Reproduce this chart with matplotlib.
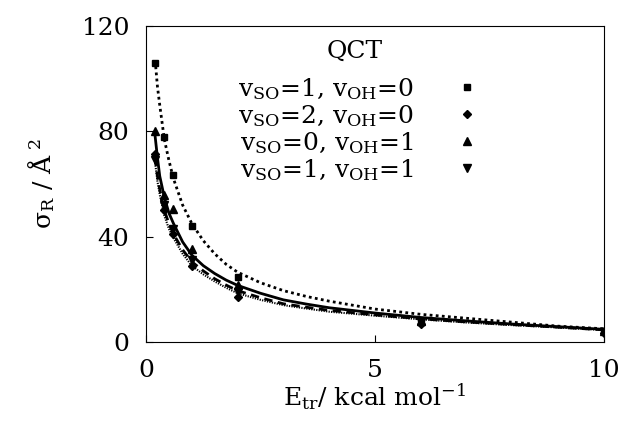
import matplotlib
matplotlib.use("Agg")
import matplotlib.pyplot as plt

plt.rcParams['font.family'] = ['DejaVu Serif']
plt.rcParams['mathtext.fontset'] = 'dejavuserif'

# QCT points
e_pts = [0.2, 0.4, 0.6, 1.0, 2.0, 6.0, 10.0]
s_10 = [106, 78, 63.5, 44, 24.5, 7.5, 4.0]
s_20 = [71.5, 50, 41, 29, 17, 6.9, 3.5]
s_01 = [80, 56, 50.5, 35.5, 21.5, 8.0, 4.0]
s_11 = [69, 52, 43, 31, 19, 7.5, 3.8]

# fitted curves
e_fit = [0.2, 0.25, 0.3, 0.4, 0.5, 0.6, 0.8, 1.0, 1.25, 1.5, 1.75, 2.0, 2.5, 3.0, 3.5,
         4.0, 5.0, 6.0, 7.0, 8.0, 9.0, 10.0]
f_10 = [107, 97, 90, 77, 69, 62, 52, 45, 38.5, 33.5, 29.5, 26.5, 22.5, 19.5, 17.3,
        15.5, 12.5, 10.5, 9.0, 7.5, 6.0, 5.0]
f_01 = [78, 70, 63, 55, 49, 45, 38, 33, 29, 26, 23.5, 21.5, 18.5, 16, 14.4,
        13, 11, 9.3, 8.0, 6.8, 5.8, 4.8]
f_11 = [70, 63, 58, 50, 45, 41, 35, 30.5, 27, 24, 21.6, 19.5, 16.8, 14.5, 13.2,
        12, 10.3, 8.8, 7.6, 6.6, 5.6, 4.6]
f_20 = [68, 61, 56, 48, 43, 39.5, 33.5, 29, 25.7, 23, 20.6, 18.5, 16, 14, 12.7,
        11.5, 10, 8.6, 7.4, 6.4, 5.5, 4.5]

labels = [r'v$_\mathrm{SO}$=1, v$_\mathrm{OH}$=0',
          r'v$_\mathrm{SO}$=2, v$_\mathrm{OH}$=0',
          r'v$_\mathrm{SO}$=0, v$_\mathrm{OH}$=1',
          r'v$_\mathrm{SO}$=1, v$_\mathrm{OH}$=1']

fig = plt.figure(figsize=(6.25, 4.28), dpi=100)
ax = fig.add_axes([0.2336, 0.201, 0.733, 0.738])

ax.plot(e_fit, f_10, color='black', lw=2, ls=(0, (1, 1.2)))
ax.plot(e_fit, f_01, color='black', lw=2, ls='-')
ax.plot(e_fit, f_11, color='black', lw=2, ls=(0, (3, 2)))
ax.plot(e_fit, f_20, color='black', lw=1.5, ls=(0, (0.6, 0.6)))

ax.plot(e_pts, s_10, 's', color='black', ms=5, label=labels[0])
ax.plot(e_pts, s_20, 'D', color='black', ms=4, label=labels[1])
ax.plot(e_pts, s_01, '^', color='black', ms=6, label=labels[2])
ax.plot(e_pts, s_11, 'v', color='black', ms=6, label=labels[3])

ax.set_xlim(0, 10)
ax.set_ylim(0, 120)
ax.set_xticks([0, 5, 10])
ax.set_yticks([0, 40, 80, 120])
ax.tick_params(direction='in', length=5, labelsize=18, pad=12)
ax.tick_params(axis='y', pad=12)

ax.set_xlabel(r'E$_\mathrm{tr}$/ kcal mol$^{-1}$', fontsize=18, labelpad=0)
ax.set_ylabel(r'$\mathrm{\sigma_R}$ / $\mathrm{\AA}^{\ 2}$', fontsize=18, labelpad=18)

ax.text(0.456, 0.92, 'QCT', transform=ax.transAxes, ha='center', va='center',
        fontsize=18)
ax.legend(loc='upper left', bbox_to_anchor=(0.2, 0.842), frameon=False,
          markerfirst=False, fontsize=18, handlelength=0.6, handletextpad=1.85,
          labelspacing=0.05, borderpad=0, borderaxespad=0)

fig.savefig('out.png', dpi=100)
